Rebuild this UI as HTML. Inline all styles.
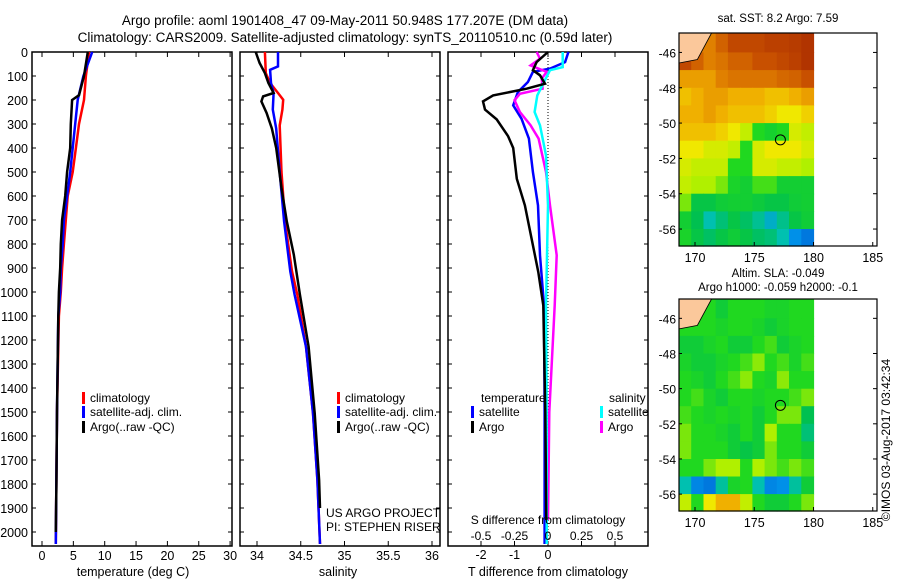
<!DOCTYPE html>
<html><head><meta charset="utf-8"><style>
body{margin:0;background:#fff;}
svg{display:block;font-family:"Liberation Sans",sans-serif;}
text{fill:#000;}
</style></head><body>
<svg id="fig" width="900" height="580" viewBox="0 0 900 580">
<text x="345" y="25" font-size="13.5" text-anchor="middle">Argo profile: aoml 1901408_47 09-May-2011 50.948S 177.207E (DM data)</text>
<text x="345" y="42" font-size="13.5" text-anchor="middle">Climatology: CARS2009. Satellite-adjusted climatology: synTS_20110510.nc (0.59d later)</text>
<g id="g"></g>
</svg>
<script>
// ---------- data ----------
const depthTicks=[0,100,200,300,400,500,600,700,800,900,1000,1100,1200,1300,1400,1500,1600,1700,1800,1900,2000];
const tempTicks=[0,5,10,15,20,25,30];
const salTicks=[34,34.5,35,35.5,36];
const salTickLabels=["34","34.5","35","35.5","36"];
const tdTicks=[-2,-1,0,1,2];
const tdTickLabels=["-2","-1","0","",""];
const sdTicks=[-0.5,-0.25,0,0.25,0.5];
const sdTickLabels=["-0.5","-0.25","0","0.25","0.5"];

const tArgoD=[0,100,180,200,300,400,500,600,700,800,900,1000,1100,1500,1800,2000];
const tArgo=[7.3,6.7,5.9,4.8,4.6,4.5,4.0,3.7,3.2,3.0,2.9,2.7,2.6,2.4,2.3,2.2];
const tClimD=[0,100,200,300,400,500,600,700,800,900,1000,1100,1500,2050];
const tClim=[7.5,7.0,6.7,5.9,5.4,4.9,4.1,3.8,3.5,3.2,3.0,2.7,2.4,2.2];
const tSatD=[0,100,200,300,400,500,600,700,800,900,1000,1100,1500,2050];
const tSat=[8.0,6.6,5.7,5.3,4.9,4.5,4.0,3.5,3.3,3.0,2.9,2.6,2.4,2.2];

const sArgoD=[0,46,88,129,171,185,206,254,319,400,567,706,844,1011,1228,1505,1783,1900];
const sArgo=[33.985,34.03,34.09,34.13,34.19,34.07,34.05,34.11,34.17,34.22,34.28,34.34,34.42,34.49,34.59,34.66,34.71,34.72];
const sClimD=[0,88,129,171,199,240,306,500,706,914,1011,1228,1505,1783,2050];
const sClim=[34.09,34.10,34.15,34.24,34.30,34.29,34.26,34.28,34.32,34.40,34.46,34.56,34.64,34.69,34.72];
const sSatD=[0,60,74,129,171,240,319,500,706,914,1011,1228,1505,1783,2050];
const sSat=[34.24,34.24,34.15,34.16,34.19,34.18,34.22,34.26,34.31,34.38,34.43,34.56,34.64,34.69,34.72];

const dTArgoD=[0,42,76,97,132,153,181,206,240,281,351,400,528,639,778,917,1056,1500,1950];
const dTArgo=[0,-0.34,-0.45,-0.24,-0.09,-0.64,-1.64,-1.94,-1.88,-1.53,-1.19,-1.04,-0.93,-0.69,-0.49,-0.29,-0.14,-0.08,-0.05];
const dTSatD=[0,42,69,83,125,167,222,278,361,500,639,847,1056,1500,2050];
const dTSat=[0.61,0.51,0.06,-0.45,-0.6,-0.9,-1.04,-0.79,-0.57,-0.45,-0.3,-0.24,-0.12,-0.1,-0.1];
const dSArgoD=[0,28,56,83,111,153,174,201,250,306,361,500,639,847,1056,1500,1950];
const dSArgo=[-0.084,-0.06,-0.13,-0.01,-0.047,-0.04,-0.21,-0.25,-0.21,-0.13,-0.07,-0.015,0.015,0.065,0.05,0.01,0.0];
const dSSatD=[0,63,76,125,181,250,306,431,639,1056,1500,2050];
const dSSat=[0.11,0.11,0.015,-0.03,-0.08,-0.1,-0.06,-0.015,0.0,-0.015,-0.01,-0.01];

const sstGrid=[
[0.75,0.8,0.8,0.85,0.9,0.9,0.9,0.92,0.92,0.93,0.95],
[0.9,0.85,0.8,0.82,0.85,0.85,0.88,0.88,0.9,0.92,0.95],
[0.75,0.75,0.75,0.8,0.82,0.82,0.82,0.82,0.84,0.85,0.88],
[0.7,0.72,0.75,0.75,0.72,0.72,0.72,0.7,0.7,0.72,0.75],
[0.72,0.72,0.75,0.72,0.7,0.7,0.7,0.68,0.65,0.65,0.68],
[0.7,0.7,0.7,0.68,0.65,0.6,0.5,0.47,0.5,0.62,0.6],
[0.65,0.65,0.62,0.62,0.6,0.5,0.62,0.65,0.65,0.65,0.62],
[0.62,0.6,0.6,0.6,0.5,0.5,0.62,0.62,0.6,0.6,0.58],
[0.6,0.58,0.58,0.55,0.48,0.46,0.52,0.52,0.46,0.46,0.46],
[0.55,0.42,0.42,0.45,0.46,0.46,0.44,0.42,0.42,0.45,0.46],
[0.46,0.4,0.3,0.36,0.42,0.38,0.33,0.26,0.34,0.42,0.45],
[0.48,0.42,0.38,0.42,0.45,0.42,0.38,0.36,0.3,0.2,0.15]];
const slaGrid=[
[0.5,0.5,0.5,0.45,0.5,0.5,0.5,0.48,0.48,0.5,0.5],
[0.5,0.5,0.5,0.48,0.5,0.5,0.48,0.45,0.48,0.5,0.5],
[0.45,0.45,0.48,0.5,0.45,0.45,0.5,0.52,0.45,0.48,0.5],
[0.48,0.45,0.45,0.48,0.5,0.52,0.56,0.5,0.52,0.48,0.52],
[0.5,0.48,0.45,0.5,0.52,0.56,0.5,0.48,0.56,0.5,0.5],
[0.5,0.52,0.48,0.45,0.5,0.5,0.48,0.5,0.5,0.52,0.55],
[0.52,0.5,0.48,0.5,0.48,0.5,0.45,0.5,0.55,0.55,0.4],
[0.55,0.5,0.5,0.48,0.45,0.5,0.45,0.58,0.5,0.5,0.36],
[0.55,0.5,0.5,0.5,0.45,0.42,0.45,0.55,0.5,0.5,0.45],
[0.5,0.5,0.55,0.58,0.58,0.5,0.58,0.55,0.52,0.55,0.52],
[0.3,0.18,0.15,0.32,0.48,0.5,0.3,0.18,0.2,0.32,0.45],
[0.6,0.5,0.65,0.72,0.72,0.6,0.5,0.45,0.45,0.5,0.55]];
const latTicks=[-46,-48,-50,-52,-54,-56];
const lonTicks=[170,175,180,185];

// ---------- helpers ----------
const NS="http://www.w3.org/2000/svg";
const G=document.getElementById('g');
function mk(tag,attrs,parent){const e=document.createElementNS(NS,tag);for(const k in attrs)e.setAttribute(k,attrs[k]);(parent||G).appendChild(e);return e;}
function txt(x,y,s,size,anchor,parent){const t=mk('text',{x:x,y:y,'font-size':size||12,'text-anchor':anchor||'middle'},parent);t.textContent=s;return t;}
const yD=d=>52+0.24*d;
const PB=546;

function panel(name,x0,x1,xf,xticks,labels,showDepth){
  const g=mk('g',{});
  
  
  const fr=mk('rect',{x:x0,y:52,width:x1-x0,height:PB-52,fill:'none',stroke:'#000','stroke-width':1.5},g);
  
  
  depthTicks.forEach(d=>{
    mk('line',{x1:x0,x2:x0+4,y1:yD(d),y2:yD(d),stroke:'#000'},g);
    mk('line',{x1:x1-4,x2:x1,y1:yD(d),y2:yD(d),stroke:'#000'},g);
    if(showDepth){const t=txt(28,yD(d)+5,String(d),12.5,'end',g);
      
      }
  });
  xticks.forEach((v,i)=>{const x=xf(v);
    mk('line',{x1:x,x2:x,y1:52,y2:57,stroke:'#000'},g);
    mk('line',{x1:x,x2:x,y1:PB-5,y2:PB,stroke:'#000'},g);
    if(labels&&labels[i]!==''){const t=txt(x,560,labels[i],12.5,'middle',g);
      
      }
  });
  return g;
}
function line(g,xs,ds,xf,color,name){
  const pts=xs.map((v,i)=>xf(v).toFixed(1)+','+yD(ds[i]).toFixed(1)).join(' ');
  const p=mk('polyline',{points:pts,fill:'none',stroke:color,'stroke-width':2.5,'stroke-linejoin':'miter'},g);
  
  
}
function legendEntry(g,x,y,color,label,name){
  mk('rect',{x:x,y:y-10,width:3,height:12,fill:color},g);
  const t=txt(x+8,y,label,12,'start',g);
  
  
}

// Panel 1 temperature
const xT=v=>42+6.27*v;
const p1=panel('temperature-panel',32,232,xT,tempTicks,tempTicks.map(String),true);
line(p1,tClim,tClimD,xT,'#ff0000','temp-climatology-line');
line(p1,tSat,tSatD,xT,'#0000ff','temp-satellite-line');
line(p1,tArgo,tArgoD,xT,'#000000','temp-argo-line');
legendEntry(p1,82,402,'#ff0000','climatology','legend-climatology');
legendEntry(p1,82,416,'#0000ff','satellite-adj. clim.','legend-satellite');
legendEntry(p1,82,431,'#000000','Argo(..raw -QC)','legend-argo');
let t=txt(133,576,'temperature (deg C)',12.5,'middle',p1);



// Panel 2 salinity
const xS=v=>257+87.5*(v-34);
const p2=panel('salinity-panel',240,440,xS,salTicks,salTickLabels,false);
line(p2,sClim,sClimD,xS,'#ff0000','sal-climatology-line');
line(p2,sSat,sSatD,xS,'#0000ff','sal-satellite-line');
line(p2,sArgo,sArgoD,xS,'#000000','sal-argo-line');
legendEntry(p2,337,402,'#ff0000','climatology','legend-climatology-2');
legendEntry(p2,337,416,'#0000ff','satellite-adj. clim.','legend-satellite-2');
legendEntry(p2,337,431,'#000000','Argo(..raw -QC)','legend-argo-2');
t=txt(326,517,'US ARGO PROJECT',12,'start',p2);


t=txt(326,531,'PI: STEPHEN RISER',12,'start',p2);


t=txt(338,576,'salinity',12.5,'middle',p2);



// Panel 3 differences
const xTd=v=>548+33.5*v;
const xSd=v=>548+134*v;
const p3=panel('difference-panel',448,648,xTd,tdTicks,null,false);
mk('line',{x1:548,x2:548,y1:52,y2:PB,stroke:'#000','stroke-dasharray':'1,2'},p3);
line(p3,dTSat,dTSatD,xTd,'#0000ff','tdiff-satellite-line');
line(p3,dSArgo,dSArgoD,xSd,'#ff00ff','sdiff-argo-line');
line(p3,dSSat,dSSatD,xSd,'#00ffff','sdiff-satellite-line');
line(p3,dTArgo,dTArgoD,xTd,'#000000','tdiff-argo-line');
t=txt(481,402,'temperature',12,'start',p3);
t=txt(609,402,'salinity',12,'start',p3);
legendEntry(p3,471,416,'#0000ff','satellite','legend-t-satellite');
legendEntry(p3,471,431,'#000000','Argo','legend-t-argo');
legendEntry(p3,600,416,'#00ffff','satellite','legend-s-satellite');
legendEntry(p3,600,431,'#ff00ff','Argo','legend-s-argo');
t=txt(548,524,'S difference from climatology',12,'middle',p3);
sdTicks.forEach((v,i)=>{const tt=txt(xSd(v),540,sdTickLabels[i],12,'middle',p3);
  
  });
tdTicks.forEach((v,i)=>{if(tdTickLabels[i]){const tt=txt(xTd(v),559,tdTickLabels[i],12.5,'middle',p3);
  
  }});
t=txt(548,576,'T difference from climatology',12.5,'middle',p3);

// ---------- maps ----------
const cmapStops=[[0,[0,48,192]],[0.2,[0,144,232]],[0.3,[0,192,176]],[0.4,[0,192,80]],[0.5,[32,216,32]],[0.58,[176,240,0]],[0.65,[240,232,0]],[0.72,[240,176,0]],[0.8,[224,128,0]],[0.88,[200,80,0]],[1,[160,32,0]]];
function cmap(v){
  v=Math.max(0,Math.min(1,v));
  for(let i=1;i<cmapStops.length;i++){
    if(v<=cmapStops[i][0]){const a=cmapStops[i-1],b=cmapStops[i],f=(v-a[0])/(b[0]-a[0]);
      return 'rgb('+a[1].map((c,k)=>Math.round(c+(b[1][k]-c)*f)).join(',')+')';}
  }
  return 'rgb(160,32,0)';
}
function map(name,top,bottom,grid,title1,title2){
  const g=mk('g',{});
  
  
  const L=679,R=877;
  const lonX=lo=>695+11.85*(lo-170);
  const latY=la=>top+ (bottom-top)*(-44.9-la)/12.06;
  const lon0=168.65,lon1=180,nc=grid[0].length,dl=(lon1-lon0)/nc;
  grid.forEach((row,ri)=>row.forEach((v,ci)=>{
    const la0=-45-ri,la1=-46-ri;
    const y0=ri===0?top:latY(la0), y1=Math.min(bottom,latY(la1));
    const x0=lonX(lon0+ci*dl), x1=lonX(lon0+(ci+1)*dl);
    const c=mk('rect',{x:x0.toFixed(1),y:y0.toFixed(1),width:(x1-x0+0.6).toFixed(1),height:(y1-y0+0.6).toFixed(1),fill:cmap(v)},g);
    
    
  }));
  const land=mk('polygon',{points:[[L,top],[lonX(171.4),top],[lonX(170.2),latY(-46.4)],[L,latY(-46.6)]].map(p=>p.join(',')).join(' '),fill:'#fbc89b',stroke:'#000','stroke-width':0.8},g);
  
  
  const m=mk('circle',{cx:lonX(177.207),cy:latY(-50.948),r:5,fill:'none',stroke:'#000','stroke-width':1},g);
  
  
  mk('rect',{x:L,y:top,width:R-L,height:bottom-top,fill:'none',stroke:'#000','stroke-width':1.2},g);
  latTicks.forEach(la=>{const y=latY(la);
    mk('line',{x1:L,x2:L+3,y1:y,y2:y,stroke:'#000'},g);
    mk('line',{x1:R-4,x2:R,y1:y,y2:y,stroke:'#000'},g);
    const tt=txt(676,y+5,String(la),12,'end',g);
    
    });
  lonTicks.forEach(lo=>{const x=lonX(lo);
    mk('line',{x1:x,x2:x,y1:bottom-4,y2:bottom,stroke:'#000'},g);
    const tt=txt(x,bottom+16,String(lo),12.5,'middle',g);
    
    });
  let a=txt(778,top-(title2?22:11),title1,11.5,'middle',g);
  
  
  if(title2){a=txt(778,top-8,title2,11.5,'middle',g);
    
    }
}
map('sst-map',33,246,sstGrid,'sat. SST: 8.2 Argo: 7.59');
map('sla-map',299,511,slaGrid,'Altim. SLA: -0.049','Argo h1000: -0.059 h2000: -0.1');
const cr=txt(0,0,'©IMOS 03-Aug-2017 03:42:34',12,'middle');
cr.setAttribute('transform','translate(890,440) rotate(-90)');


</script>
</body></html>
